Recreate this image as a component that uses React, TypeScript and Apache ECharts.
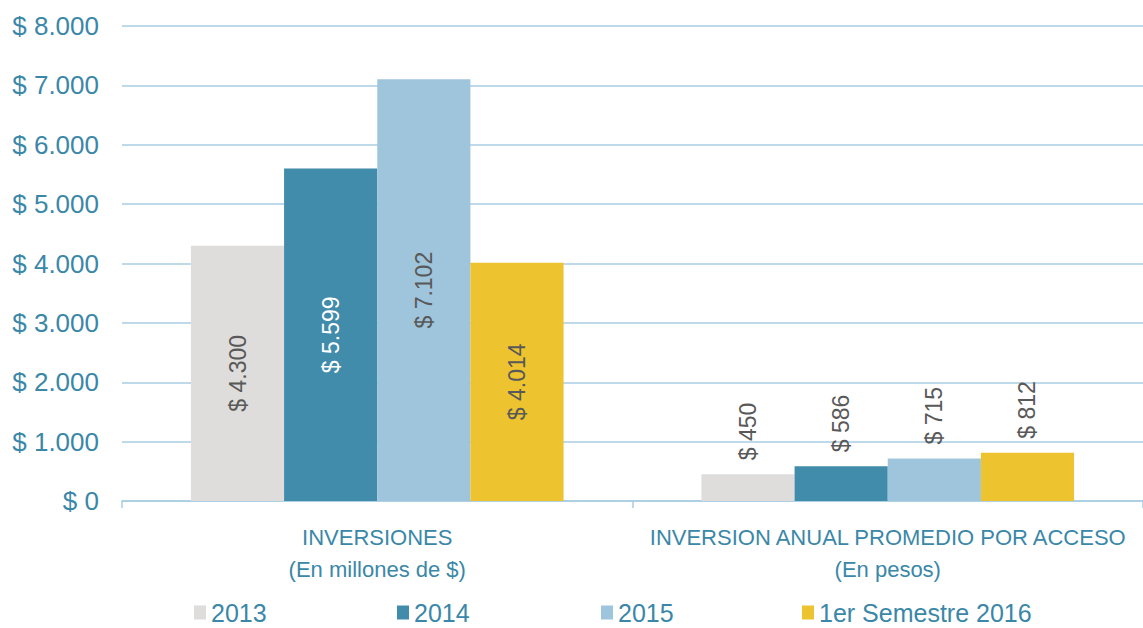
import React, { useEffect, useRef } from "react";
import * as echarts from "echarts";

const categories = ["INVERSIONES\n(En millones de $)", "INVERSION ANUAL PROMEDIO POR ACCESO\n(En pesos)"];
const seriesNames = ["2013", "2014", "2015", "1er Semestre 2016"];
const values2013 = [4300, 450];
const values2014 = [5599, 586];
const values2015 = [7102, 715];
const values2016 = [4014, 812];
const yTicks = [0, 1000, 2000, 3000, 4000, 5000, 6000, 7000, 8000];

const colors = ["#DEDDDC", "#418BAB", "#9FC5DC", "#EDC42F"];
const labelColors = ["#595959", "#FFFFFF", "#595959", "#595959"];
const teal = "#3A87A8";
const gridColor = "#A9CDE2";
const font = "'Liberation Sans', Arial, sans-serif";

function fmt(n: number): string {
  const s = Math.round(n).toString();
  return "$ " + s.replace(/\B(?=(\d{3})+(?!\d))/g, ".");
}

export default function App() {
  const ref = useRef<HTMLDivElement>(null);
  useEffect(() => {
    if (!ref.current) return;
    const chart = echarts.init(ref.current, undefined, { renderer: "svg" });
    const all = [values2013, values2014, values2015, values2016];
    const series = all.map((vals, i) => ({
      name: seriesNames[i],
      type: "bar",
      barGap: "0%",
      barCategoryGap: "27%",
      itemStyle: { color: colors[i] },
      data: vals.map((v, j) => ({
        value: v,
        label:
          j === 0
            ? {
                show: true,
                position: "inside",
                rotate: 90,
                align: "center",
                verticalAlign: "middle",
                color: labelColors[i],
                fontSize: 23,
                fontFamily: font,
                formatter: (p: any) => fmt(p.value),
              }
            : {
                show: true,
                position: "top",
                distance: 14,
                rotate: 90,
                align: "left",
                verticalAlign: "middle",
                color: "#595959",
                fontSize: 23,
                fontFamily: font,
                formatter: (p: any) => fmt(p.value),
              },
      })),
    }));
    const legendLefts = [194, 397, 601, 802];
    chart.setOption({
      animation: false,
      grid: { left: 122, right: 0, top: 26, bottom: 127, containLabel: false },
      legend: seriesNames.map((n, i) => ({
        data: [n],
        left: legendLefts[i],
        top: 600,
        padding: 0,
        itemWidth: 12,
        itemHeight: 14,
        itemGap: 0,
        icon: "rect",
        textStyle: { color: teal, fontSize: 25, fontFamily: font },
      })),
      xAxis: {
        type: "category",
        data: categories,
        axisLine: { lineStyle: { color: gridColor, width: 1.5 } },
        axisTick: { show: true, length: 7, lineStyle: { color: gridColor, width: 1.5 } },
        axisLabel: {
          interval: 0,
          color: teal,
          fontSize: 22,
          fontFamily: font,
          lineHeight: 32,
          margin: 20,
        },
      },
      yAxis: {
        type: "value",
        min: yTicks[0],
        max: yTicks[yTicks.length - 1],
        interval: 1000,
        axisLine: { show: false },
        axisTick: { show: false },
        splitLine: { lineStyle: { color: gridColor, width: 1.5 } },
        axisLabel: {
          color: teal,
          fontSize: 26,
          fontFamily: font,
          margin: 23,
          formatter: (v: number) => fmt(v),
        },
      },
      series,
    });
    return () => chart.dispose();
  }, []);
  return <div ref={ref} style={{ width: 1143, height: 628, position: "absolute", left: 0, top: 0, background: "#fff" }} />;
}
